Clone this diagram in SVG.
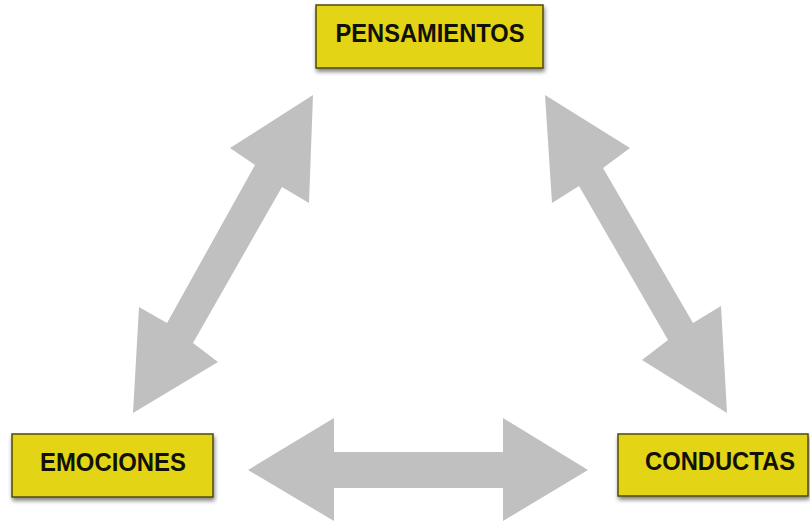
<svg xmlns="http://www.w3.org/2000/svg" width="810" height="521" viewBox="0 0 810 521">
<defs>
<filter id="sh" x="-10%" y="-20%" width="130%" height="160%">
<feGaussianBlur in="SourceAlpha" stdDeviation="2"/>
<feOffset dx="1" dy="3" result="b"/>
<feComponentTransfer><feFuncA type="linear" slope="0.5"/></feComponentTransfer>
<feMerge><feMergeNode/><feMergeNode in="SourceGraphic"/></feMerge>
</filter>
</defs>
<style>
.box{fill:#e3d412;stroke:#4f4a10;stroke-width:1.5;filter:url(#sh)}
.lbl{font-family:"Liberation Sans",Arial,sans-serif;font-weight:bold;font-size:26px;fill:#111108;text-anchor:middle}
.arr{fill:#c0c0c0}
</style>
<rect width="810" height="521" fill="#ffffff"/>
<g id="connectors">
<polygon class="arr" points="313,95 309,203 282,187 193,343 218,362 133,413 139,307 167,323 255,165 230,148"/>
<polygon class="arr" points="545,95 630,148 603,168 693,323 721,306 727,413 642,360 668,340 579,186 552,203"/>
<polygon class="arr" points="248,470 334,418 334,452 503,452 503,418 588,470 503,521 503,488 334,488 334,521"/>
</g>
<g id="pensamientos">
<rect class="box" x="316" y="5" width="227" height="63"/>
<text class="lbl" x="430" y="42" textLength="189" lengthAdjust="spacingAndGlyphs">PENSAMIENTOS</text>
</g>
<g id="emociones">
<rect class="box" x="12" y="434" width="201" height="63"/>
<text class="lbl" x="113" y="471" textLength="146" lengthAdjust="spacingAndGlyphs">EMOCIONES</text>
</g>
<g id="conductas">
<rect class="box" x="618" y="434" width="190" height="62"/>
<text class="lbl" x="720" y="470" textLength="150" lengthAdjust="spacingAndGlyphs">CONDUCTAS</text>
</g>
</svg>
